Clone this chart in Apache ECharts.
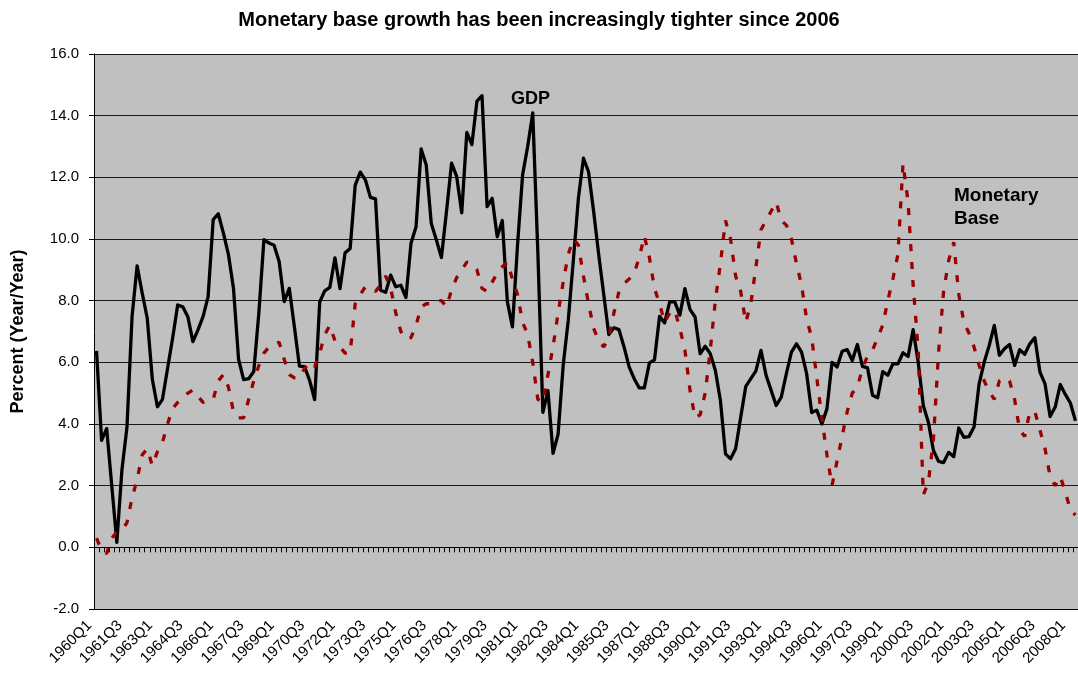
<!DOCTYPE html>
<html>
<head>
<meta charset="utf-8">
<script src="https://cdn.jsdelivr.net/npm/echarts@6/dist/echarts.min.js"></script>
<style>
html,body{margin:0;padding:0;background:#fff;}
#chart{width:1078px;height:673px;}
</style>
</head>
<body>
<div id="chart"></div>
<script>
// Quarterly categories 1960Q1 .. 2008Q2
var firstYear = 1960;
var quarterCount = 194;
var categories = [];
for (var k = 0; k < quarterCount; k++) {
  categories.push((firstYear + Math.floor(k / 4)) + 'Q' + (k % 4 + 1));
}

// Nominal GDP growth, % year/year
var gdp = [
  6.37, 3.47, 3.85, 2.0, 0.16, 2.5, 3.9, 7.48, 9.13, 8.25,
  7.43, 5.45, 4.56, 4.8, 5.8, 6.78, 7.86, 7.8, 7.48, 6.67,
  7.05, 7.48, 8.13, 10.63, 10.82, 10.2, 9.5, 8.4, 6.1, 5.44,
  5.47, 5.7, 7.6, 9.98, 9.87, 9.8, 9.27, 7.97, 8.4, 7.16,
  5.88, 5.86, 5.42, 4.79, 7.96, 8.32, 8.43, 9.39, 8.39, 9.55,
  9.69, 11.75, 12.17, 11.92, 11.35, 11.3, 8.34, 8.27, 8.83, 8.45,
  8.5, 8.1, 9.86, 10.4, 12.92, 12.4, 10.5, 9.97, 9.4, 10.9,
  12.46, 12.03, 10.85, 13.46, 13.06, 14.47, 14.65, 11.05, 11.32, 10.07,
  10.6, 7.96, 7.15, 9.8, 12.08, 13.0, 14.09, 9.6, 4.38, 5.08,
  3.05, 3.67, 5.9, 7.36, 9.3, 11.32, 12.62, 12.18, 10.9, 9.5,
  8.2, 6.9, 7.12, 7.06, 6.5, 5.85, 5.47, 5.17, 5.17, 5.98,
  6.08, 7.49, 7.28, 7.96, 7.96, 7.53, 8.39, 7.72, 7.47, 6.28,
  6.52, 6.28, 5.74, 4.76, 3.03, 2.87, 3.2, 4.22, 5.22, 5.47,
  5.72, 6.39, 5.58, 5.09, 4.6, 4.87, 5.63, 6.33, 6.6, 6.33,
  5.63, 4.37, 4.45, 4.0, 4.49, 6.0, 5.85, 6.36, 6.41, 6.06,
  6.58, 5.87, 5.82, 4.93, 4.85, 5.7, 5.58, 5.95, 5.95, 6.31,
  6.19, 7.06, 6.0, 4.6, 4.06, 3.14, 2.79, 2.75, 3.08, 2.94,
  3.87, 3.57, 3.59, 3.9, 5.3, 6.0, 6.55, 7.2, 6.23, 6.44,
  6.58, 5.9, 6.41, 6.26, 6.6, 6.8, 5.68, 5.3, 4.24, 4.55,
  5.28, 4.96, 4.68, 4.1
];

// Monetary base growth, % year/year
var monetaryBase = [
  0.3, -0.1, -0.2, 0.3, 0.5, 0.55, 0.8, 1.6, 2.2, 3.0,
  3.2, 2.65, 3.1, 3.4, 4.0, 4.5, 4.7, 4.85, 5.0, 5.1,
  4.9, 4.7, 4.75, 4.8, 5.4, 5.6, 5.2, 4.4, 4.2, 4.2,
  4.8, 5.4, 5.9, 6.3, 6.5, 6.6, 6.65, 6.1, 5.6, 5.5,
  5.5, 5.8, 6.0, 5.85, 6.3, 6.9, 7.2, 6.7, 6.5, 6.3,
  6.3, 7.9, 8.2, 8.45, 8.4, 8.3, 8.5, 8.8, 8.4, 7.6,
  7.0, 6.75, 6.8, 7.2, 7.8, 7.9, 7.9, 8.0, 8.0, 7.8,
  8.35, 8.75, 9.0, 9.25, 9.2, 9.0, 8.4, 8.3, 8.6, 8.9,
  9.1, 9.25, 8.7, 8.2, 7.3, 6.9, 6.0, 4.8, 4.7, 5.6,
  6.5, 7.6, 8.6, 9.5, 10.0, 9.8, 8.8, 7.9, 7.1, 6.7,
  6.5, 6.8, 7.6, 8.3, 8.55, 8.7, 8.9, 9.4, 10.1, 9.4,
  8.4, 7.9, 7.3, 7.6, 7.7, 7.1, 6.4, 5.1, 4.2, 4.3,
  5.0, 6.4, 8.0, 9.2, 10.6, 10.0, 8.8, 8.3, 7.3, 7.9,
  9.1, 10.3, 10.6, 10.9, 11.2, 10.6, 10.45, 10.0, 9.2, 8.5,
  7.4, 6.8, 5.5, 4.2, 3.0, 2.0, 2.8, 3.6, 4.4, 5.0,
  5.2, 5.8, 6.2, 6.4, 6.8, 7.2, 8.0, 8.7, 9.5, 12.45,
  11.2, 8.5, 6.4, 1.7, 2.1, 3.5, 6.3, 8.3, 9.3, 9.9,
  8.2, 7.3, 6.95, 6.5, 5.9, 5.4, 5.05, 4.8, 5.4, 5.5,
  5.4, 4.8, 3.8, 3.6, 4.4, 4.4, 3.8, 3.2, 2.3, 2.0,
  2.3, 1.8, 1.2, 1.05
];

var yTicks = { min: -2, max: 16, step: 2 };
var labelEvery = 6;

var FONT = '"Liberation Sans", Arial, Helvetica, sans-serif';
var chart = echarts.init(document.getElementById('chart'), null, { renderer: 'canvas' });

var option = {
  animation: false,
  backgroundColor: '#ffffff',
  title: {
    text: 'Monetary base growth has been increasingly tighter since 2006',
    left: 'center',
    top: 5,
    textStyle: { fontFamily: FONT, fontWeight: 'bold', fontSize: 20, color: '#000' }
  },
  grid: {
    left: 94,
    top: 54,
    bottom: 64,
    right: -3.5,
    show: true,
    backgroundColor: '#c0c0c0',
    borderWidth: 0,
    containLabel: false
  },
  xAxis: [
    {
      type: 'category',
      data: categories,
      position: 'bottom',
      boundaryGap: true,
      axisLine: { show: true, onZero: false, lineStyle: { color: '#000', width: 1 } },
      axisTick: { show: false },
      axisLabel: {
        interval: labelEvery - 1,
        rotate: 45,
        margin: 7,
        padding: [0, 10, 0, 0],
        fontFamily: FONT,
        fontSize: 15,
        color: '#000'
      },
      splitLine: { show: false }
    },
    {
      type: 'category',
      data: categories,
      position: 'bottom',
      boundaryGap: true,
      axisLine: { show: true, onZero: true, lineStyle: { color: '#000', width: 1 } },
      axisTick: { show: true, interval: 0, length: 5, lineStyle: { color: '#000', width: 1 } },
      axisLabel: { show: false },
      splitLine: { show: false }
    }
  ],
  yAxis: {
    type: 'value',
    min: yTicks.min,
    max: yTicks.max,
    interval: yTicks.step,
    name: 'Percent (Year/Year)',
    nameLocation: 'middle',
    nameRotate: 90,
    nameGap: 67,
    nameTextStyle: { fontFamily: FONT, fontWeight: 'bold', fontSize: 18, color: '#000' },
    axisLine: { show: true, onZero: false, lineStyle: { color: '#000', width: 1 } },
    axisTick: { show: true, length: 5, lineStyle: { color: '#000', width: 1 } },
    axisLabel: {
      margin: 15,
      fontFamily: FONT,
      fontSize: 15,
      color: '#000',
      formatter: function (v) { return v.toFixed(1); }
    },
    splitLine: { show: true, lineStyle: { color: '#1a1a1a', width: 1 } }
  },
  series: [
    {
      name: 'GDP',
      type: 'line',
      data: gdp,
      xAxisIndex: 0,
      showSymbol: false,
      symbol: 'none',
      clip: true,
      lineStyle: { color: '#000000', width: 3.3, join: 'round' },
      z: 3
    },
    {
      name: 'Monetary Base',
      type: 'line',
      data: monetaryBase,
      xAxisIndex: 0,
      showSymbol: false,
      symbol: 'none',
      clip: true,
      lineStyle: { color: '#990000', width: 3.3, type: [7, 11] },
      z: 4
    }
  ],
  graphic: [
    {
      type: 'text',
      left: 511,
      top: 90,
      style: { text: 'GDP', font: 'bold 18px ' + FONT, fill: '#000' }
    },
    {
      type: 'text',
      left: 954,
      top: 184,
      style: { text: 'Monetary\nBase', font: 'bold 19px ' + FONT, lineHeight: 23, fill: '#000' }
    }
  ]
};
chart.setOption(option);
</script>
</body>
</html>
